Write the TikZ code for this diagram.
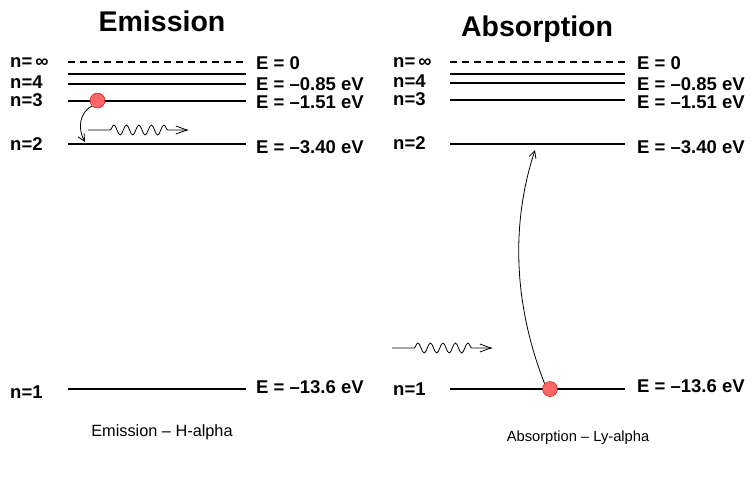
\documentclass[tikz,border=0pt]{standalone}
\usepackage{fontspec}
\setmainfont{Liberation Sans}
\usetikzlibrary{decorations.pathmorphing,arrows.meta,calc}
\begin{document}
\begin{tikzpicture}[x=1pt,y=-1pt,
  lvl/.style={line width=1.5pt},
  lvldash/.style={line width=1.1pt, dash pattern=on 7pt off 5pt},
  lbl/.style={font=\bfseries\fontsize{18.5}{18.5}\selectfont, anchor=west, inner sep=0pt},
  title/.style={font=\bfseries\fontsize{28.5}{28.5}\selectfont, inner sep=0pt},
  caption/.style={font=\fontsize{16.3}{16.3}\selectfont, inner sep=0pt},
  electron/.style={circle, minimum size=15pt, inner sep=0pt, fill=red!60!white, draw=red!75!black, line width=0.4pt},
  trans/.style={line width=0.8pt, -{Straight Barb[length=7pt,width=7pt]}},
  photon/.style={line width=0.8pt, decorate, decoration={snake, amplitude=5pt, segment length=12.5pt, pre length=22pt, post length=16pt}},
  phtip/.style={-{Straight Barb[length=11pt,width=8pt]}}
]
\useasboundingbox (0,0) rectangle (755,483);

% ---------- Emission ----------
\node[title] (tE) at (162,21) {Emission};
\draw[lvldash] (68,62) -- (246,62);
\draw[lvl] (68,74) -- (246,74);
\draw[lvl] (68,84) -- (246,84);
\draw[lvl] (68,101) -- (246,101);
\draw[lvl] (68,144) -- (246,144);
\draw[lvl] (68,389) -- (246,389);

\node[lbl] (eninf) at (10,63) {n=\,∞};
\node[lbl] (en4) at (10,82) {n=4};
\node[lbl] (en3) at (10,100) {n=3};
\node[lbl] (en2) at (10,144) {n=2};
\node[lbl] (en1) at (10,392) {n=1};

\node[lbl] (eE0) at (256,63) {E = 0};
\node[lbl] (eE4) at (256,84) {E = \textendash0.85 eV};
\node[lbl] (eE3) at (256,102.5) {E = \textendash1.51 eV};
\node[lbl] (eE2) at (256,147) {E = \textendash3.40 eV};
\node[lbl] (eE1) at (256,387) {E = \textendash13.6 eV};

\node[electron] (edot) at (97.5,100.5) {};
\coordinate (eend) at (85,142);
\draw[trans] (edot.225) .. controls (80,112) and (77,128) .. (eend);
\coordinate (ephS) at (88,130);
\coordinate (ephE) at (188,130);
\draw[photon] (ephS) -- (ephE);
\draw[line width=0.8pt, phtip] ($(ephE)+(-2,0)$) -- (ephE);

\node[caption] (capE) at (162,432) {Emission \textendash{} H-alpha};

% ---------- Absorption ----------
\node[title] (tA) at (537,29) {Absorption};
\draw[lvldash] (450,62) -- (625,62);
\draw[lvl] (450,74) -- (625,74);
\draw[lvl] (450,83) -- (625,83);
\draw[lvl] (450,100) -- (625,100);
\draw[lvl] (450,144) -- (625,144);
\draw[lvl] (450,389) -- (625,389);

\node[lbl] (aninf) at (393,63) {n=\,∞};
\node[lbl] (an4) at (393,81) {n=4};
\node[lbl] (an3) at (393,99) {n=3};
\node[lbl] (an2) at (393,143) {n=2};
\node[lbl] (an1) at (393,389) {n=1};

\node[lbl] (aE0) at (637,63) {E = 0};
\node[lbl] (aE4) at (637,84) {E = \textendash0.85 eV};
\node[lbl] (aE3) at (637,102.5) {E = \textendash1.51 eV};
\node[lbl] (aE2) at (637,147) {E = \textendash3.40 eV};
\node[lbl] (aE1) at (637,386) {E = \textendash13.6 eV};

\node[electron] (adot) at (550,389) {};
\coordinate (aend) at (535,150);
\draw[trans] (adot.135) .. controls (512,300) and (512,220) .. (aend);
\coordinate (aphS) at (392,348);
\coordinate (aphE) at (492,348);
\draw[photon] (aphS) -- (aphE);
\draw[line width=0.8pt, phtip] ($(aphE)+(-2,0)$) -- (aphE);

\node[caption, font=\fontsize{14.7}{14.7}\selectfont] (capA) at (578,438) {Absorption \textendash{} Ly-alpha};
\end{tikzpicture}
\end{document}
